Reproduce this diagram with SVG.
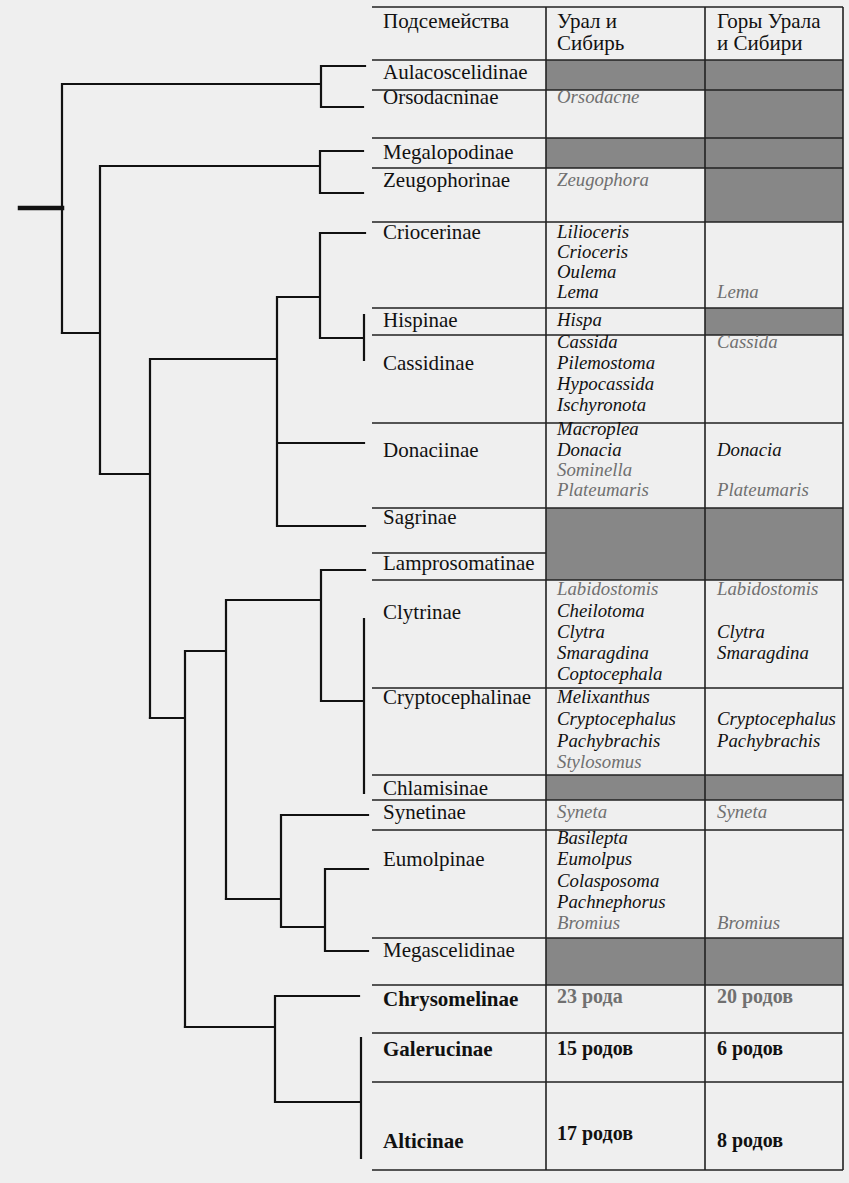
<svg xmlns="http://www.w3.org/2000/svg" width="849" height="1183" viewBox="0 0 849 1183">
<style>
.sf{font-family:"Liberation Serif","Times New Roman",serif;font-size:21px;fill:#111}
.b{font-weight:bold}
.n{font-size:20px}
.g{font-family:"Liberation Serif","Times New Roman",serif;font-size:18.8px;font-style:italic;fill:#111}
.f{fill:#707070}
.h{font-family:"Liberation Serif","Times New Roman",serif;font-size:21px;fill:#111}
.gr{fill:#878787}
.tl{stroke:#222;stroke-width:1.6;fill:none}
.cn{stroke:#111;stroke-width:2.2;fill:none;stroke-linecap:square}
</style>
<rect width="849" height="1183" fill="#efefef"/>

<g id="shading">
<rect class="gr" x="546" y="60" width="297" height="30"/>
<rect class="gr" x="705" y="90" width="138" height="132"/>
<rect class="gr" x="546" y="138" width="159" height="30"/>
<rect class="gr" x="705" y="308" width="138" height="27"/>
<rect class="gr" x="546" y="508" width="297" height="72"/>
<rect class="gr" x="546" y="775" width="297" height="25"/>
<rect class="gr" x="546" y="938" width="297" height="47"/>
</g>

<g id="table-grid" class="tl">
<path d="M372,7 H843 M372,60 H843 M372,90 H843 M372,138 H843 M372,168 H843 M372,222 H843 M372,308 H843 M372,335 H843 M372,423 H843 M372,508 H843 M372,553 H546 M372,580 H843 M372,688 H843 M372,775 H843 M372,800 H843 M372,830 H843 M372,938 H843 M372,985 H843 M372,1033 H843 M372,1082 H843 M372,1170 H843"/>
<path d="M546,7 V1170 M705,7 V1170 M843,7 V1170"/>
</g>

<g id="header">
<text class="h" x="383" y="28">Подсемейства</text>
<text class="h" x="557" y="28">Урал и</text>
<text class="h" x="557" y="50">Сибирь</text>
<text class="h" x="717" y="28">Горы Урала</text>
<text class="h" x="717" y="50">и Сибири</text>
</g>

<g id="aulacoscelidinae"><text class="sf" x="383" y="79">Aulacoscelidinae</text></g>
<g id="orsodacninae"><text class="sf" x="383" y="104">Orsodacninae</text><text class="g f" x="557" y="103">Orsodacne</text></g>
<g id="megalopodinae"><text class="sf" x="383" y="159">Megalopodinae</text></g>
<g id="zeugophorinae"><text class="sf" x="383" y="187">Zeugophorinae</text><text class="g f" x="557" y="186">Zeugophora</text></g>
<g id="criocerinae"><text class="sf" x="383" y="239">Criocerinae</text>
<text class="g" x="557" y="238">Lilioceris</text><text class="g" x="557" y="258">Crioceris</text><text class="g" x="557" y="278">Oulema</text><text class="g" x="557" y="298">Lema</text>
<text class="g f" x="717" y="298">Lema</text></g>
<g id="hispinae"><text class="sf" x="383" y="327">Hispinae</text><text class="g" x="557" y="326">Hispa</text></g>
<g id="cassidinae"><text class="sf" x="383" y="370">Cassidinae</text>
<text class="g" x="557" y="348">Cassida</text><text class="g" x="557" y="369">Pilemostoma</text><text class="g" x="557" y="390">Hypocassida</text><text class="g" x="557" y="411">Ischyronota</text>
<text class="g f" x="717" y="348">Cassida</text></g>
<g id="donaciinae"><text class="sf" x="383" y="457">Donaciinae</text>
<text class="g" x="557" y="435">Macroplea</text><text class="g" x="557" y="456">Donacia</text><text class="g f" x="557" y="476">Sominella</text><text class="g f" x="557" y="496">Plateumaris</text>
<text class="g" x="717" y="456">Donacia</text><text class="g f" x="717" y="496">Plateumaris</text></g>
<g id="sagrinae"><text class="sf" x="383" y="524">Sagrinae</text></g>
<g id="lamprosomatinae"><text class="sf" x="383" y="570">Lamprosomatinae</text></g>
<g id="clytrinae"><text class="sf" x="383" y="619">Clytrinae</text>
<text class="g f" x="557" y="595">Labidostomis</text><text class="g" x="557" y="617">Cheilotoma</text><text class="g" x="557" y="638">Clytra</text><text class="g" x="557" y="659">Smaragdina</text><text class="g" x="557" y="680">Coptocephala</text>
<text class="g f" x="717" y="595">Labidostomis</text><text class="g" x="717" y="638">Clytra</text><text class="g" x="717" y="659">Smaragdina</text></g>
<g id="cryptocephalinae"><text class="sf" x="383" y="704">Cryptocephalinae</text>
<text class="g" x="557" y="703">Melixanthus</text><text class="g" x="557" y="725">Cryptocephalus</text><text class="g" x="557" y="747">Pachybrachis</text><text class="g f" x="557" y="768">Stylosomus</text>
<text class="g" x="717" y="725">Cryptocephalus</text><text class="g" x="717" y="747">Pachybrachis</text></g>
<g id="chlamisinae"><text class="sf" x="383" y="795">Chlamisinae</text></g>
<g id="synetinae"><text class="sf" x="383" y="819">Synetinae</text><text class="g f" x="557" y="818">Syneta</text><text class="g f" x="717" y="818">Syneta</text></g>
<g id="eumolpinae"><text class="sf" x="383" y="866">Eumolpinae</text>
<text class="g" x="557" y="844">Basilepta</text><text class="g" x="557" y="865">Eumolpus</text><text class="g" x="557" y="887">Colasposoma</text><text class="g" x="557" y="908">Pachnephorus</text><text class="g f" x="557" y="929">Bromius</text>
<text class="g f" x="717" y="929">Bromius</text></g>
<g id="megascelidinae"><text class="sf" x="383" y="957">Megascelidinae</text></g>
<g id="chrysomelinae"><text class="sf b" x="383" y="1006">Chrysomelinae</text><text class="sf b f n" x="557" y="1003">23 рода</text><text class="sf b f n" x="717" y="1003">20 родов</text></g>
<g id="galerucinae"><text class="sf b" x="383" y="1056">Galerucinae</text><text class="sf b n" x="557" y="1055">15 родов</text><text class="sf b n" x="717" y="1055">6 родов</text></g>
<g id="alticinae"><text class="sf b" x="383" y="1148">Alticinae</text><text class="sf b n" x="557" y="1140">17 родов</text><text class="sf b n" x="717" y="1147">8 родов</text></g>

<g id="connectors" class="cn">
<path d="M20,208 H62" stroke-width="4.5"/>
<path d="M62,84 V333 M62,84 H321 M321,66 V107 M321,66 H365 M321,107 H363"/>
<path d="M62,333 H100 M100,166 V474 M100,166 H320 M320,151 V193 M320,151 H363 M320,193 H363"/>
<path d="M100,474 H150 M150,359 V718 M150,359 H277 M277,297 V526 M277,297 H320 M320,233 V338 M320,233 H365 M320,338 H364 M364,315 V360 M277,443 H364 M277,526 H365"/>
<path d="M150,718 H185 M185,651 V1027 M185,651 H226 M226,600 V899 M226,600 H321 M321,570 V701 M321,570 H365 M321,701 H363 M364,619 V793"/>
<path d="M226,899 H281 M281,815 V927 M281,815 H368 M281,927 H325 M325,869 V951 M325,869 H368 M325,951 H368"/>
<path d="M185,1027 H275 M275,996 V1102 M275,996 H359 M275,1102 H361 M361,1038 V1158"/>
</g>
</svg>
